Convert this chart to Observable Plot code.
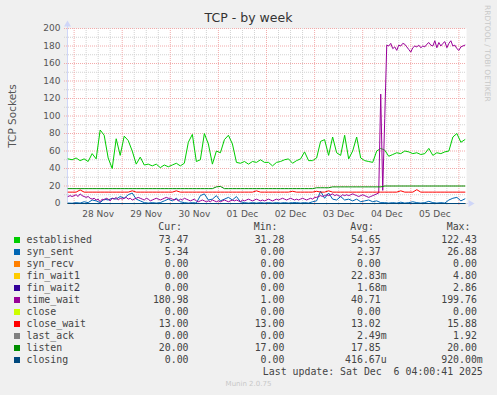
<!DOCTYPE html>
<html><head><meta charset="utf-8">
<script src="https://cdn.jsdelivr.net/npm/d3@7"></script>
<script src="https://cdn.jsdelivr.net/npm/@observablehq/plot@0.6"></script>
<style>
html,body{margin:0;padding:0;background:#F0F0F0;}
#chart{position:relative;width:497px;height:395px;background:#F0F0F0;overflow:hidden;font-family:"DejaVu Sans",sans-serif;}
#plot{position:absolute;left:0;top:0;}
.t{position:absolute;white-space:pre;line-height:12px;}
.mono{font-family:"DejaVu Sans Mono",monospace;font-size:9.9px;color:#444;}
</style></head>
<body>
<div id="chart">
  <div id="plot"></div>
  <div class="t" id="title" style="left:0;width:497px;top:11px;text-align:center;font-size:12.5px;color:#333;line-height:14px;">TCP - by week</div>
  <div class="t" style="left:12px;top:115.5px;font-size:10.5px;color:#555;transform:translate(-50%,-50%) rotate(-90deg);">TCP Sockets</div>
  <div class="t" style="left:486.5px;top:5px;font-size:7.5px;color:#c8c8c8;transform-origin:0 0;transform:translate(4px,0) rotate(90deg);line-height:8px;">RRDTOOL / TOBI OETIKER</div>
  <div id="legend"></div>
</div>
<script>
// ---- time layout (x positions of samples) ----
const startTime = new Date(Date.UTC(2025, 10, 27, 20, 42));
const endTime = new Date(Date.UTC(2025, 11, 6, 3, 48));
const firstSample = Date.UTC(2025, 10, 27, 21, 0);
const HOUR = 3600 * 1000;

// ---- tick labels ----
const dayLabels = ["28 Nov", "29 Nov", "30 Nov", "01 Dec", "02 Dec", "03 Dec", "04 Dec", "05 Dec"];
const dayLabelNoons = [
  Date.UTC(2025,10,28,12), Date.UTC(2025,10,29,12), Date.UTC(2025,10,30,12), Date.UTC(2025,11,1,12),
  Date.UTC(2025,11,2,12), Date.UTC(2025,11,3,12), Date.UTC(2025,11,4,12), Date.UTC(2025,11,5,12)
];
const yLabelTicks = [0, 20, 40, 60, 80, 100, 120, 140, 160, 180, 200];
const yMinorTicks = [10, 30, 50, 70, 90, 110, 130, 150, 170, 190];

// ---- series (2-hour samples) ----
const established = [51,50,52,49,51,48,57,51,84,78, 52,40,74,55,77,72,60,45,53,44,
  45,43,45,41,44,42,44,46,43,46, 70,79,48,50,80,68,45,60,58,73,
  78,68,47,46,48,45,48,47,50,47, 47,43,47,48,50,51,46,49,51,59,
  49,49,52,71,73,55,76,58,55,78, 51,60,76,52,49,48,47,60,63,61,
  54,56,58,57,60,59,57,58,56,57, 63,55,58,57,59,60,76,80,70,73];
const syn_sent = [0.5,0.3,1,0.5,2,1,4,3,1,5, 4,6,5,8,6,10,12,5,3,1,
  0.5,1,0.5,1,3,5,3,6,2,1, 0.5,1,0.5,9,11,4,5,9,3,5,
  7,4,8,2,1,0.5,1,0.5,1,0.5, 1,0.5,1,0.5,1,0.5,1,1,0.5,1,
  0.5,2,3,14,6,12,5,4,8,4, 5,3,5,2,3,4,2,3,1,1,
  0.5,1,0.5,1.5,0.5,1,2,1,0.5,1, 2.5,1,0.5,1,0.5,4,6,7,3,5.3];
const close_wait = [13,13,13,15.5,13,13,13,13,13,13, 13,13,13,13,13,13,14.5,13,13,13,
  13,13,13,13,13,13,13,14.5,13,13, 13,13,13,13,13,13,13,13,13,13,
  13,13,13,13,13,13,13,14.5,13,13, 13,13,13,13,13,13,14,13,13,13,
  13,13,14,13,13,14.5,13,13,13,13, 13,13,13,13,13,13,13,13,13,13,
  13,13,13,14.5,13,13,13,15.8,13,13, 13,13,13,13,13,13,13,13,13,13];
const listen = [17,17,17,17,17,17,17,17,17,17, 17,17,17,17,17,17,17,17,17,17,
  17,17,17,17,17,17,17,17,17,17, 17,17,17,17,17,17,17,19,19.5,17,
  17,17,17,17,17,17,17,17,17,17, 17,17,17,17,17,17,17,17,17,17,
  17,17,18,18,18,18,19,19,19,19, 19,19,19,19,19,19,19,19,19,20,
  20,20,20,20,20,20,20,20,20,20, 20,20,20,20,20,20,20,20,20,20];
// ---- series (1-hour samples) ----
const time_wait = [8,9,8,9,10,8,11,9,8,7,8,6,5,6,4,5,2,
  5,4,6,5,3,6,5,7,4,6,5,6,7,5,6,4,5,6,7,6,5,4,6,5,3,4,5,6,5,4,5,6,7,6,
  6,5,4,5,3,5,4,6,5,4,3,4,5,3,2,3,4,3,2,3,2,4,3,2,3,2,3,4,3,2,3,4,3,4,3,2,4,3,4,5,4,3,4,5,4,3,4,3,4,5,
  4,3,4,5,4,5,6,5,4,5,6,5,4,5,4,5,6,5,4,5,6,5,7,
  7,8,9,8,9,10,9,10,11,9,10,9,8,10,9,10,9,10,11,10,9,8,9,10,9,8,7,8,9,10,11,12,
  125,15,97,
  181,180,183,177,179,175,181,180,183,182,179,176,173,178,180,179,181,178,180,179,
  182,184,181,180,186,178,184,180,183,185,178,183,186,180,181,177,175,179,180,181];
// ---- flat series (first and last sample) ----
const syn_recv = [0, 0];
const fin_wait1 = [0, 0];
const fin_wait2 = [0, 0];
const close_ = [0, 0];
const last_ack = [0, 0];
const closing = [0, 0];

// ---- legend ----
const names = ["established","syn_sent","syn_recv","fin_wait1","fin_wait2","time_wait","close","close_wait","last_ack","listen","closing"];
const colors = ["#00CC00","#0066B3","#FF8000","#FFCC00","#330099","#990099","#CCFF00","#FF0000","#808080","#008F00","#00487D"];
const curVals = ["73.47","5.34","0.00","0.00","0.00","180.98","0.00","13.00","0.00","20.00","0.00"];
const minVals = ["31.28","0.00","0.00","0.00","0.00","1.00","0.00","13.00","0.00","17.00","0.00"];
const avgVals = ["54.65","2.37","0.00","22.83m","1.68m","40.71","0.00","13.02","2.49m","17.85","416.67u"];
const maxVals = ["122.43","26.88","0.00","4.80","2.86","199.76","0.00","15.88","1.92","20.00","920.00m"];
const lastUpdate = "Last update: Sat Dec  6 04:00:41 2025";
const version = "Munin 2.0.75";

// ---- build rows ----
const rows2h = arr => arr.map((v, i) => ({t: new Date(firstSample + i * 2 * HOUR), v}));
const rows1h = arr => arr.map((v, i) => ({t: new Date(firstSample + i * HOUR), v}));
const rowsFlat = arr => arr.map((v, i) => ({t: i === 0 ? new Date(firstSample) : new Date(firstSample + 198 * HOUR), v}));

const seriesRows = [
  [rows2h(established), colors[0]],
  [rows2h(syn_sent), colors[1]],
  [rowsFlat(syn_recv), colors[2]],
  [rowsFlat(fin_wait1), colors[3]],
  [rowsFlat(fin_wait2), colors[4]],
  [rows1h(time_wait), colors[5]],
  [rowsFlat(close_), colors[6]],
  [rows2h(close_wait), colors[7]],
  [rowsFlat(last_ack), colors[8]],
  [rows2h(listen), colors[9]],
  [rowsFlat(closing), colors[10]]
];

const sixHours = d3.utcHour.every(6).range(startTime, endTime).filter(d => d.getUTCHours() !== 0);
const midnights = d3.utcDay.range(startTime, endTime);
const minorGrid = "#d2d2d2";
const majorGrid = "#f2aaaa";
const axisColor = "#CFD6F8";

const chart = Plot.plot({
  width: 497, height: 220,
  marginLeft: 67, marginRight: 31, marginTop: 28, marginBottom: 17,
  style: {background: "transparent", fontFamily: "DejaVu Sans, sans-serif", fontSize: "9px", color: "#555"},
  x: {type: "utc", domain: [startTime, endTime], label: null},
  y: {domain: [0, 200], label: null},
  marks: [
    Plot.frame({fill: "white", stroke: "none"}),
    Plot.ruleY(yMinorTicks, {stroke: minorGrid, strokeDasharray: "1,1", insetLeft: -3}),
    Plot.ruleY(yLabelTicks.filter(d => d > 0), {stroke: majorGrid, strokeDasharray: "1,1", insetLeft: -3}),
    Plot.ruleX(sixHours, {stroke: minorGrid, strokeDasharray: "1,1", insetBottom: -3}),
    Plot.ruleX(midnights, {stroke: majorGrid, strokeDasharray: "1,1", insetBottom: -3}),
    Plot.ruleY([0], {stroke: axisColor, insetRight: -2}),
    Plot.ruleX([startTime], {stroke: axisColor, insetTop: -3}),
    Plot.dot([0], {x: () => endTime, y: () => 0, symbol: "triangle", r: 2.6, rotate: 90, fill: axisColor, stroke: "none", dx: 4}),
    Plot.dot([0], {x: () => startTime, y: () => 200, symbol: "triangle", r: 2.6, fill: axisColor, stroke: "none", dy: -4}),
    ...seriesRows.map(([data, c]) => Plot.line(data, {x: "t", y: "v", stroke: c, strokeWidth: 1})),
    Plot.axisY(yLabelTicks, {tickSize: 0, tickPadding: 7, fontSize: 9, fill: "#555", label: null}),
    Plot.axisX(dayLabelNoons.map(d => new Date(d)), {tickSize: 0, tickPadding: 7, fontSize: 9, fill: "#555", label: null,
      tickFormat: (d, i) => dayLabels[i]})
  ]
});
document.getElementById("plot").appendChild(chart);

// ---- legend html ----
const legend = document.getElementById("legend");
function txt(s, cls, cy, left, right) {
  const d = document.createElement("div");
  d.className = "t " + cls;
  d.textContent = s;
  d.style.top = (cy - 6) + "px";
  if (left != null) d.style.left = left + "px";
  if (right != null) { d.style.right = (497 - right) + "px"; d.style.textAlign = "right"; }
  legend.appendChild(d);
  return d;
}
const pad = s => /[a-z]$/.test(s) ? s : s + " ";
txt("Cur:", "mono", 227.3, null, 182);
txt("Min:", "mono", 227.3, null, 277.5);
txt("Avg:", "mono", 227.3, null, 374);
txt("Max:", "mono", 227.3, null, 470.5);
names.forEach((n, k) => {
  const cy = 239.5 + 12 * k;
  const sq = document.createElement("div");
  sq.style.cssText = `position:absolute;left:14px;top:${cy - 3}px;width:6px;height:6px;background:${colors[k]};`;
  legend.appendChild(sq);
  txt(n, "mono", cy, 26.5, null);
  txt(pad(curVals[k]), "mono", cy, null, 194.5);
  txt(pad(minVals[k]), "mono", cy, null, 290.3);
  txt(pad(avgVals[k]), "mono", cy, null, 386.7);
  txt(pad(maxVals[k]), "mono", cy, null, 482.8);
});
txt(lastUpdate, "mono", 371.8, null, 482.8);
const v = txt(version, "", 384, 0, null);
v.style.width = "497px"; v.style.textAlign = "center"; v.style.fontSize = "7px"; v.style.color = "#c8c8c8";
</script>
</body></html>
